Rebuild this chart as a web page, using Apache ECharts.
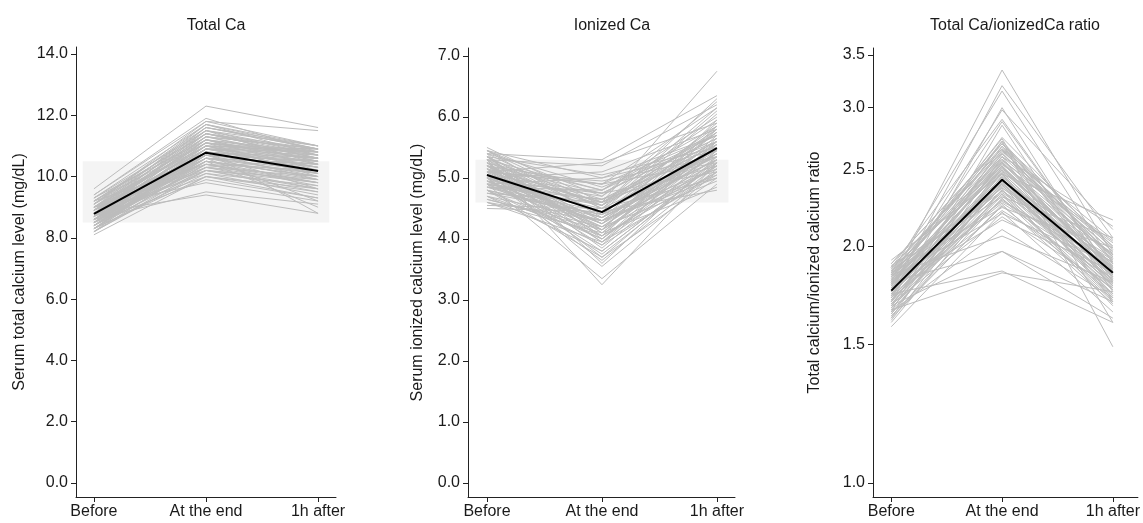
<!DOCTYPE html>
<html>
<head>
<meta charset="utf-8">
<script src="https://cdn.jsdelivr.net/npm/echarts@6/dist/echarts.min.js"></script>
<style>
  html, body { margin: 0; padding: 0; background: #fff; }
  #chart { width: 1143px; height: 523px; }
</style>
</head>
<body>
<div id="chart"></div>
<script>
const timePoints = ["Before", "At the end", "1h after"];

// Total Ca (mg/dL), one value per patient
const totalBefore = [9.6, 9.4, 9.3, 9.2, 9.3, 9.1, 9.2, 9.0, 9.1, 8.9, 9.0, 8.8, 9.0, 8.9, 8.7, 8.8, 9.1, 8.6, 8.9, 8.7,
  8.5, 8.8, 8.6, 9.0, 8.4, 8.7, 8.9, 8.5, 8.3, 8.8, 8.6, 8.4, 9.2, 8.7, 8.3, 8.5, 8.9, 8.2, 8.6, 8.4,
  8.8, 8.3, 8.7, 8.1, 8.5, 9.0, 8.6, 8.8, 8.4, 8.2, 8.9, 8.6, 8.3, 8.8, 9.1, 8.5, 8.7, 8.4, 8.2, 9.3,
  8.6, 8.9, 9.0, 8.7, 8.5, 9.2, 8.3, 8.8, 8.6, 9.4,
  9.0, 8.7, 8.5, 8.9, 8.3, 8.6, 8.8, 9.1, 8.4, 8.2, 8.7, 9.0, 8.5, 8.9, 8.6, 8.3, 8.8, 9.2, 8.4, 8.7];
const totalEnd = [12.3, 11.8, 11.7, 11.6, 11.5, 11.5, 11.4, 11.4, 11.3, 11.3, 11.2, 11.2, 11.1, 11.1, 11.0, 11.0, 11.0, 10.9, 10.9, 10.9,
  10.8, 10.8, 10.8, 10.7, 10.7, 10.7, 10.6, 10.6, 10.6, 10.5, 10.5, 10.5, 10.4, 10.4, 10.4, 10.3, 10.3, 10.3, 10.2, 10.2,
  10.1, 10.1, 10.0, 10.0, 9.9, 9.8, 9.5, 9.4, 11.0, 10.9, 10.8, 11.3, 10.7, 11.6, 11.7, 11.1, 11.5, 10.6, 10.5, 11.2,
  10.3, 10.9, 10.2, 11.0, 10.8, 11.4, 10.9, 10.6, 10.7, 11.9,
  11.6, 11.4, 11.2, 11.5, 10.8, 11.1, 11.3, 11.8, 10.4, 10.2, 10.9, 11.0, 10.5, 11.7, 10.6, 10.0, 11.4, 11.1, 10.8, 11.2];
const totalAfter = [11.6, 11.5, 11.0, 10.9, 11.0, 10.8, 10.9, 10.7, 10.9, 10.6, 10.8, 10.5, 10.4, 10.7, 10.6, 10.3, 10.9, 10.5, 10.2, 10.8,
  10.4, 10.1, 10.6, 10.0, 10.3, 10.5, 9.9, 10.2, 10.4, 9.8, 10.1, 10.0, 10.2, 9.7, 9.9, 9.6, 10.0, 9.8, 9.5, 9.9,
  9.4, 9.7, 9.6, 9.5, 9.3, 9.2, 9.1, 8.8, 10.8, 10.6, 8.8, 10.9, 10.5, 11.0, 10.9, 10.0, 10.7, 9.2, 9.0, 10.4,
  10.6, 10.3, 9.8, 10.1, 9.9, 10.6, 10.7, 10.4, 9.6, 10.8,
  10.9, 10.6, 10.7, 10.4, 10.2, 10.8, 10.5, 11.0, 9.8, 9.6, 10.9, 10.3, 10.0, 10.7, 10.1, 9.3, 10.8, 10.6, 10.5, 10.2];
const totalMean = [8.78, 10.78, 10.18];
const totalNormal = [8.5, 10.5];
const totalTicks = [0, 2, 4, 6, 8, 10, 12, 14];

// Ionized Ca (mg/dL)
const ionBefore = [5.5, 5.4, 5.3, 5.2, 5.45, 5.1, 5.35, 5.0, 5.25, 4.9, 5.3, 5.15, 4.95, 5.2, 5.05, 4.85, 5.1, 5.0, 4.8, 5.25,
  5.05, 4.9, 5.35, 4.75, 5.15, 4.95, 4.7, 5.2, 5.0, 4.8, 5.4, 4.65, 5.1, 4.9, 5.3, 4.6, 4.55, 4.5, 5.45, 5.0,
  5.2, 4.85, 5.35, 5.1, 4.95, 5.25, 5.05, 4.75, 5.15, 4.9, 5.3, 5.0, 4.8, 5.2, 4.7, 5.4, 5.05, 4.95, 5.15, 4.6,
  5.25, 4.85, 5.1, 5.35, 4.65, 5.0, 5.2, 4.9, 5.45, 4.8,
  5.2, 4.9, 5.1, 5.3, 4.8, 5.0, 5.4, 4.7, 5.15, 5.05, 4.95, 5.25, 4.85, 5.35, 4.6, 5.1, 5.0, 5.2, 4.9, 5.45];
const ionEnd = [4.6, 5.3, 5.2, 4.9, 4.7, 5.25, 4.5, 5.1, 4.8, 5.0, 4.4, 4.6, 4.75, 4.3, 4.55, 4.65, 4.2, 4.45, 4.35, 4.1,
  4.25, 4.15, 4.0, 4.4, 3.95, 4.05, 4.3, 3.85, 3.75, 3.7, 3.6, 4.2, 3.55, 3.35, 3.25, 4.1, 4.5, 4.45, 4.35, 4.7,
  4.55, 4.8, 5.05, 4.95, 4.25, 4.65, 3.9, 4.6, 4.15, 4.5, 4.1, 4.35, 4.0, 4.75, 3.8, 4.85, 4.45, 4.2, 4.6, 3.95,
  4.05, 4.3, 4.9, 4.4, 4.15, 3.65, 4.25, 4.55, 5.0, 4.4,
  4.3, 4.0, 4.6, 4.8, 3.9, 4.25, 4.5, 4.05, 3.7, 4.75, 4.35, 3.95, 4.45, 4.15, 4.3, 4.9, 3.8, 4.05, 4.65, 4.55];
const ionAfter = [6.75, 6.35, 6.2, 6.15, 6.25, 5.9, 6.1, 5.8, 5.85, 5.7, 5.75, 5.6, 5.65, 5.5, 5.55, 5.45, 5.4, 5.35, 5.3, 5.5,
  5.25, 5.2, 5.6, 5.15, 5.3, 5.1, 5.05, 5.45, 5.2, 5.0, 5.35, 4.95, 5.1, 4.9, 5.25, 4.85, 5.0, 4.8, 5.8, 5.95,
  6.15, 5.7, 5.5, 5.35, 5.75, 5.2, 5.6, 5.55, 5.85, 5.4, 5.65, 5.3, 5.45, 5.1, 5.25, 5.6, 6.05, 5.5, 5.35, 5.05,
  5.7, 5.15, 5.25, 5.9, 5.4, 5.15, 5.55, 5.8, 5.45, 5.3,
  5.6, 5.35, 5.75, 6.0, 5.1, 5.5, 5.85, 5.2, 5.3, 5.65, 5.45, 5.55, 5.4, 5.95, 5.0, 5.7, 5.25, 5.8, 5.6, 6.3];
const ionMean = [5.05, 4.44, 5.49];
const ionNormal = [4.6, 5.3];
const ionTicks = [0, 1, 2, 3, 4, 5, 6, 7];

// Total Ca / ionized Ca ratio
const ratioBefore = [1.80, 1.75, 1.85, 1.70, 1.78, 1.88, 1.65, 1.82, 1.72, 1.90, 1.68, 1.76, 1.84, 1.62, 1.79, 1.73, 1.87, 1.66, 1.81, 1.70,
  1.92, 1.77, 1.64, 1.83, 1.74, 1.69, 1.86, 1.60, 1.78, 1.71, 1.89, 1.67, 1.80, 1.75, 1.63, 1.85, 1.72, 1.58, 1.82, 1.69,
  1.77, 1.65, 1.84, 1.80, 1.68, 1.74, 1.66, 1.78, 1.73, 1.87, 1.61, 1.76, 1.83, 1.70, 1.90, 1.79, 1.64, 1.81, 1.72, 1.86,
  1.67, 1.77, 1.84, 1.71, 1.62, 1.80, 1.75, 1.88, 1.69, 1.78,
  1.76, 1.83, 1.70, 1.79, 1.73, 1.86, 1.65, 1.81, 1.74, 1.88, 1.68, 1.78, 1.84, 1.71, 1.80, 1.63, 1.77, 1.85, 1.72, 1.79];
const ratioEnd = [3.35, 3.20, 3.15, 3.00, 2.98, 2.90, 2.85, 2.75, 2.72, 2.70, 2.68, 2.65, 2.63, 2.60, 2.58, 2.56, 2.54, 2.52, 2.50, 2.48,
  2.47, 2.45, 2.43, 2.42, 2.40, 2.39, 2.37, 2.36, 2.34, 2.33, 2.31, 2.30, 2.28, 2.27, 2.25, 2.24, 2.22, 2.21, 2.20, 2.18,
  2.16, 2.10, 2.06, 1.97, 1.97, 1.86, 1.85, 2.60, 2.55, 2.66, 2.44, 2.62, 2.53, 2.49, 2.70, 2.41, 2.46, 2.57, 2.38, 2.35,
  2.32, 2.45, 2.74, 2.29, 2.26, 2.51, 2.40, 2.64, 2.36, 2.88,
  2.55, 2.68, 2.44, 2.62, 2.50, 2.58, 2.41, 2.72, 2.47, 2.66, 2.33, 2.52, 2.60, 2.39, 2.56, 2.30, 2.48, 2.70, 2.42, 2.53];
const ratioAfter = [1.95, 2.05, 1.90, 1.80, 2.10, 1.85, 1.75, 1.98, 1.49, 2.00, 1.82, 1.92, 1.88, 1.70, 1.95, 1.86, 2.02, 1.78, 1.90, 1.83,
  2.16, 1.88, 1.72, 1.96, 1.85, 1.80, 1.93, 1.68, 1.87, 1.79, 2.05, 1.76, 1.91, 1.84, 1.74, 1.99, 1.82, 1.65, 1.89, 1.77,
  1.86, 1.72, 1.80, 1.70, 1.62, 1.60, 1.75, 2.12, 1.94, 1.87, 1.73, 1.97, 1.81, 1.90, 1.86, 1.78, 1.84, 2.03, 1.76, 1.92,
  1.71, 1.83, 1.60, 1.87, 1.69, 1.95, 1.81, 2.00, 1.77, 1.85,
  1.86, 1.94, 1.80, 1.99, 1.88, 1.83, 1.74, 1.91, 1.79, 2.04, 1.72, 1.85, 1.97, 1.78, 1.89, 1.70, 1.84, 1.93, 1.81, 1.87];
const ratioMean = [1.756, 2.43, 1.851];
const ratioTicks = [1.0, 1.5, 2.0, 2.5, 3.0, 3.5];

const FONT = "Liberation Sans, Arial, sans-serif";
const TXT = "#1a1a1a";
const GREY = "#bcbcbc";

const panels = [
  { title: "Total Ca", name: "Serum total calcium level (mg/dL)", before: totalBefore, end: totalEnd, after: totalAfter,
    mean: totalMean, normal: totalNormal, ticks: totalTicks, type: "value",
    grid: { left: 76, top: 47, width: 260, height: 450 }, xr: [-0.16, 2.16], yr: [-0.457, 14.228], nameGap: 48, cx: 211 },
  { title: "Ionized Ca", name: "Serum ionized calcium level (mg/dL)", before: ionBefore, end: ionEnd, after: ionAfter,
    mean: ionMean, normal: ionNormal, ticks: ionTicks, type: "value",
    grid: { left: 468, top: 48, width: 267, height: 449 }, xr: [-0.165, 2.157], yr: [-0.23, 7.131], nameGap: 42, cx: 607 },
  { title: "Total Ca/ionizedCa ratio", name: "Total calcium/ionized calcium ratio", before: ratioBefore, end: ratioEnd, after: ratioAfter,
    mean: ratioMean, normal: null, ticks: ratioTicks, type: "log",
    grid: { left: 873, top: 48, width: 275, height: 449 }, xr: [-0.165, 2.226], yr: [0.9598, 3.573], nameGap: 50, cx: 1010 }
];

const series = [];
panels.forEach((p, g) => {
  if (p.normal) {
    // reference range band
    series.push({
      type: "line", xAxisIndex: g, yAxisIndex: g, data: [], z: 1, silent: true,
      markArea: {
        silent: true,
        itemStyle: { color: "#f4f4f4" },
        data: [[{ xAxis: -0.1, yAxis: p.normal[0] }, { xAxis: 2.1, yAxis: p.normal[1] }]]
      }
    });
  }
  p.before.forEach((b, i) => {
    series.push({
      type: "line", xAxisIndex: g, yAxisIndex: g, z: 2, silent: true,
      symbol: "none", animation: false,
      lineStyle: { color: GREY, width: 1 },
      data: [[0, b], [1, p.end[i]], [2, p.after[i]]]
    });
  });
  series.push({
    type: "line", xAxisIndex: g, yAxisIndex: g, z: 5, silent: true,
    symbol: "none", animation: false,
    lineStyle: { color: "#000", width: 2 },
    data: p.mean.map((v, k) => [k, v])
  });
});

const chart = echarts.init(document.getElementById("chart"));
chart.setOption({
  animation: false,
  backgroundColor: "#fff",
  textStyle: { fontFamily: FONT },
  title: panels.map(p => ({
    text: p.title, left: p.cx, top: 13, textAlign: "center",
    textStyle: { fontFamily: FONT, fontSize: 16, fontWeight: "normal", color: TXT }
  })),
  grid: panels.map(p => p.grid),
  xAxis: panels.map((p, g) => ({
    type: "value", gridIndex: g, min: p.xr[0], max: p.xr[1],
    axisLine: { show: true, onZero: false, lineStyle: { color: "#222", width: 1 } },
    axisTick: { show: true, customValues: [0, 1, 2], length: 5, lineStyle: { color: "#222" } },
    axisLabel: { customValues: [0, 1, 2], formatter: v => timePoints[Math.round(v)],
      fontFamily: FONT, fontSize: 16, color: TXT, margin: 7 },
    splitLine: { show: false }
  })),
  yAxis: panels.map((p, g) => ({
    type: p.type, gridIndex: g, min: p.yr[0], max: p.yr[1],
    name: p.name, nameLocation: "middle", nameGap: p.nameGap,
    nameTextStyle: { fontFamily: FONT, fontSize: 16, color: TXT },
    axisLine: { show: true, onZero: false, lineStyle: { color: "#222", width: 1 } },
    axisTick: { show: true, customValues: p.ticks, length: 5, lineStyle: { color: "#222" } },
    axisLabel: { customValues: p.ticks, formatter: v => Number(v).toFixed(1),
      fontFamily: FONT, fontSize: 16, color: TXT, margin: 8 },
    splitLine: { show: false }
  })),
  series: series
});
</script>
</body>
</html>
